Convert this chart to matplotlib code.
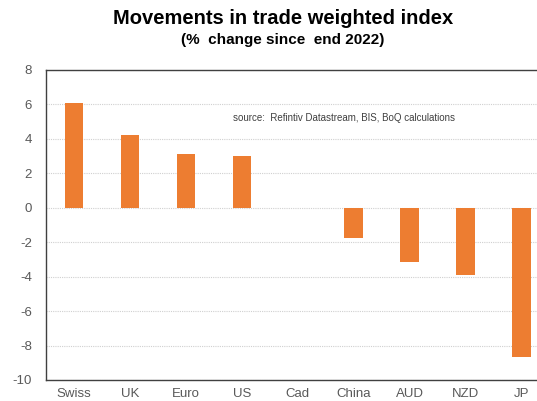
import matplotlib
matplotlib.use("Agg")
import matplotlib.pyplot as plt

plt.rcParams["font.family"] = ["Liberation Sans", "DejaVu Sans"]
plt.rcParams["axes.unicode_minus"] = False

categories = ["Swiss", "UK", "Euro", "US", "Cad", "China", "AUD", "NZD", "JP"]
values = [6.08, 4.2, 3.12, 3.0, 0.0, -1.74, -3.16, -3.88, -8.68]

fig = plt.figure(figsize=(5.37, 4.01), dpi=100)
ax = fig.add_axes([46 / 537, 21 / 401, 1 - 46 / 537, 310 / 401])

x = list(range(len(categories)))
ax.bar(x, values, width=0.33, color="#ED7D31", zorder=3)

ax.set_xlim(-0.5, 8.28)
ax.set_ylim(-10, 8)
ax.set_yticks(range(-10, 9, 2))
ax.set_xticks(x)
ax.set_xticklabels(categories)
ax.tick_params(axis="both", length=0, labelsize=9.5, colors="#595959")
ax.tick_params(axis="x", pad=6)
ax.tick_params(axis="y", pad=10)
ax.yaxis.grid(True, color="#d0d0d0", linestyle=(0, (1, 1)), linewidth=0.8)

for side in ["left", "bottom", "top"]:
    ax.spines[side].set_color("#404040")
    ax.spines[side].set_linewidth(1.0)
ax.spines["right"].set_visible(False)

ax.text(2.85, 5.2, "source:  Refintiv Datastream, BIS, BoQ calculations",
        fontsize=7, color="#404040", va="center")

fig.text(283 / 537, 1 - 19 / 401, "Movements in trade weighted index", ha="center",
         va="center", fontsize=14.5, fontweight="bold")
fig.text(283 / 537, 1 - 40 / 401, "(%  change since  end 2022)", ha="center",
         va="center", fontsize=11, fontweight="bold")

fig.savefig("out.png", dpi=100)
